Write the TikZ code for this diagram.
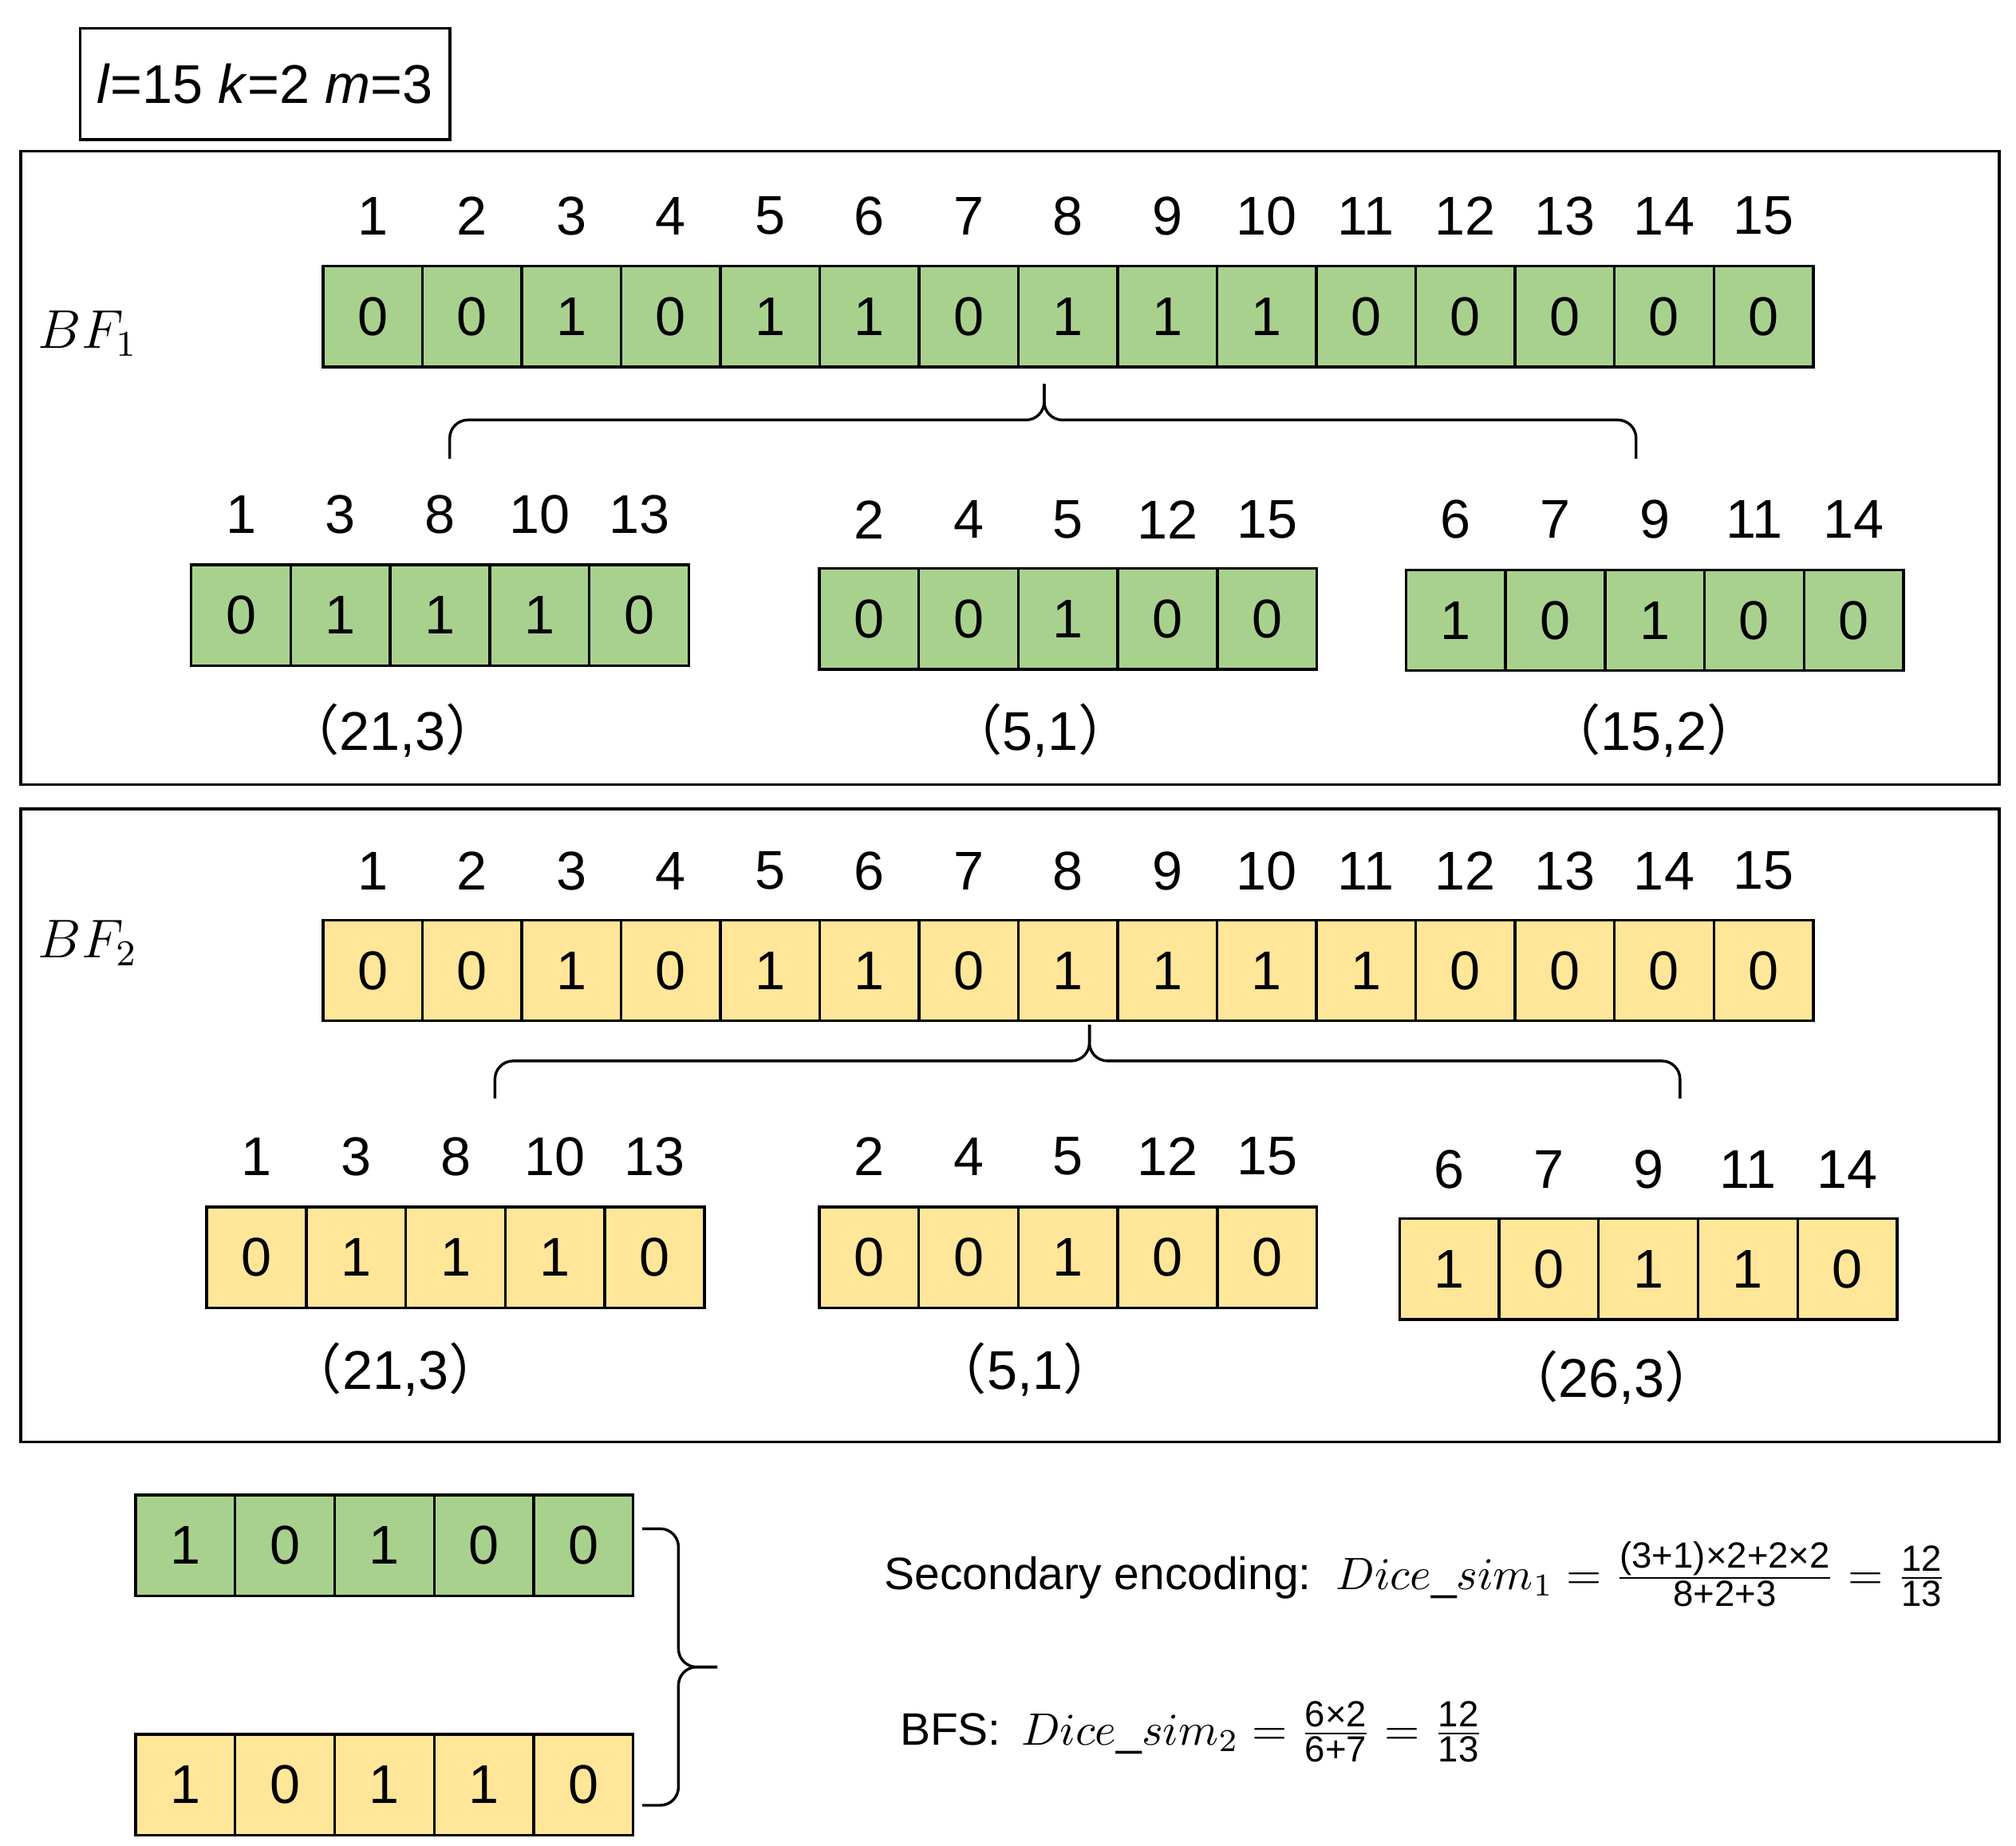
\documentclass[tikz,border=0pt]{standalone}
\usepackage{fontspec}
\setmainfont{Liberation Sans}
\newfontfamily\cjk{Noto Sans CJK SC}
\usetikzlibrary{positioning}
\definecolor{bfgreen}{HTML}{A9D18E}
\definecolor{bfyellow}{HTML}{FFE699}
\tikzset{
  cell/.style={draw, semithick, minimum width=0.77cm, minimum height=0.78cm, inner sep=0pt, font=\fontsize{12}{14}\selectfont},
  idx/.style={inner sep=0pt, font=\fontsize{12}{14}\selectfont},
  panel/.style={draw, semithick},
  pair/.style={inner sep=0pt, font=\fontsize{12}{14}\selectfont},
  brace/.style={draw, semithick, rounded corners=4pt}
}
% one group of cells with its index labels above
\newcommand\bitgroup[7]{%
  \foreach \v [count=\i] in {#6}
    \node[cell, fill=#7] (#1\i) at ({#2+77*\i-38.5},#3) {\v};
  \foreach \n [count=\i] in {#5}
    \node[idx] (#1l\i) at ({#2+77*\i-38.5},#4) {\n};}
\begin{document}
\begin{tikzpicture}[x=0.01cm, y=-0.01cm]
  \useasboundingbox (0,0) rectangle (1560,1428);

  \node[draw, semithick, minimum width=2.86cm, minimum height=0.86cm, font=\fontsize{12}{14}\selectfont] (par) at (205,65) {\textit{l}=15 \textit{k}=2 \textit{m}=3};

  % first filter
  \draw[panel] (16,117) rectangle (1547,607);
  \node[font=\fontsize{12}{14}\selectfont] (bf1) at (68,258) {$BF_1$};
  \foreach \v [count=\i] in {0,0,1,0,1,1,0,1,1,1,0,0,0,0,0} {
    \node[cell, fill=bfgreen, minimum width=0.769cm] (a\i) at ({250+76.87*\i-38.43},245) {\v};
    \node[idx] (al\i) at ({250+76.87*\i-38.43},167) {\i};
  }
  \draw[brace] (348,355) -- (348,325) -- (808,325) -- (808,297);
  \draw[brace] (808,297) -- (808,325) -- (1266,325) -- (1266,355);
  \bitgroup{p}{148}{476}{398}{1,3,8,10,13}{0,1,1,1,0}{bfgreen}
  \bitgroup{q}{634}{479}{402}{2,4,5,12,15}{0,0,1,0,0}{bfgreen}
  \bitgroup{s}{1088}{480}{402}{6,7,9,11,14}{1,0,1,0,0}{bfgreen}
  \node[pair] (pp) at (304,565) {{\cjk （}21,3{\cjk ）}};
  \node[pair] (qp) at (805,565) {{\cjk （}5,1{\cjk ）}};
  \node[pair] (sp) at (1280,565) {{\cjk （}15,2{\cjk ）}};

  % second filter
  \draw[panel] (16,626) rectangle (1547,1116);
  \node[font=\fontsize{12}{14}\selectfont] (bf2) at (68,730) {$BF_2$};
  \foreach \v [count=\i] in {0,0,1,0,1,1,0,1,1,1,1,0,0,0,0} {
    \node[cell, fill=bfyellow, minimum width=0.769cm] (b\i) at ({250+76.87*\i-38.43},751) {\v};
    \node[idx] (bl\i) at ({250+76.87*\i-38.43},674) {\i};
  }
  \draw[brace] (383,850) -- (383,821) -- (843,821) -- (843,793);
  \draw[brace] (843,793) -- (843,821) -- (1300,821) -- (1300,850);
  \bitgroup{u}{160}{973}{895}{1,3,8,10,13}{0,1,1,1,0}{bfyellow}
  \bitgroup{v}{634}{973}{895}{2,4,5,12,15}{0,0,1,0,0}{bfyellow}
  \bitgroup{w}{1083}{982}{905}{6,7,9,11,14}{1,0,1,1,0}{bfyellow}
  \node[pair] (up) at (306,1060) {{\cjk （}21,3{\cjk ）}};
  \node[pair] (vp) at (793,1060) {{\cjk （}5,1{\cjk ）}};
  \node[pair] (wp) at (1247,1066) {{\cjk （}26,3{\cjk ）}};

  % comparison
  \bitgroup{g}{105}{1196}{1196}{}{1,0,1,0,0}{bfgreen}
  \bitgroup{y}{105}{1381}{1381}{}{1,0,1,1,0}{bfyellow}
  \draw[brace] (497,1183) -- (525,1183) -- (525,1290) -- (555,1290);
  \draw[brace] (555,1290) -- (525,1290) -- (525,1397) -- (497,1397);
  \node[anchor=west, font=\fontsize{10}{12}\selectfont] (enc) at (672,1218)
    {Secondary encoding:\, $Dice\_sim_1=\frac{\mbox{\fontsize{8}{9}\selectfont (3+1)×2+2×2}}{\mbox{\fontsize{8}{9}\selectfont 8+2+3}}=\frac{\mbox{\fontsize{8}{9}\selectfont 12}}{\mbox{\fontsize{8}{9}\selectfont 13}}$};
  \node[anchor=west, font=\fontsize{10}{12}\selectfont] (bfs) at (684,1340)
    {BFS:\, $Dice\_sim_2=\frac{\mbox{\fontsize{8}{9}\selectfont 6×2}}{\mbox{\fontsize{8}{9}\selectfont 6+7}}=\frac{\mbox{\fontsize{8}{9}\selectfont 12}}{\mbox{\fontsize{8}{9}\selectfont 13}}$};
\end{tikzpicture}
\end{document}
